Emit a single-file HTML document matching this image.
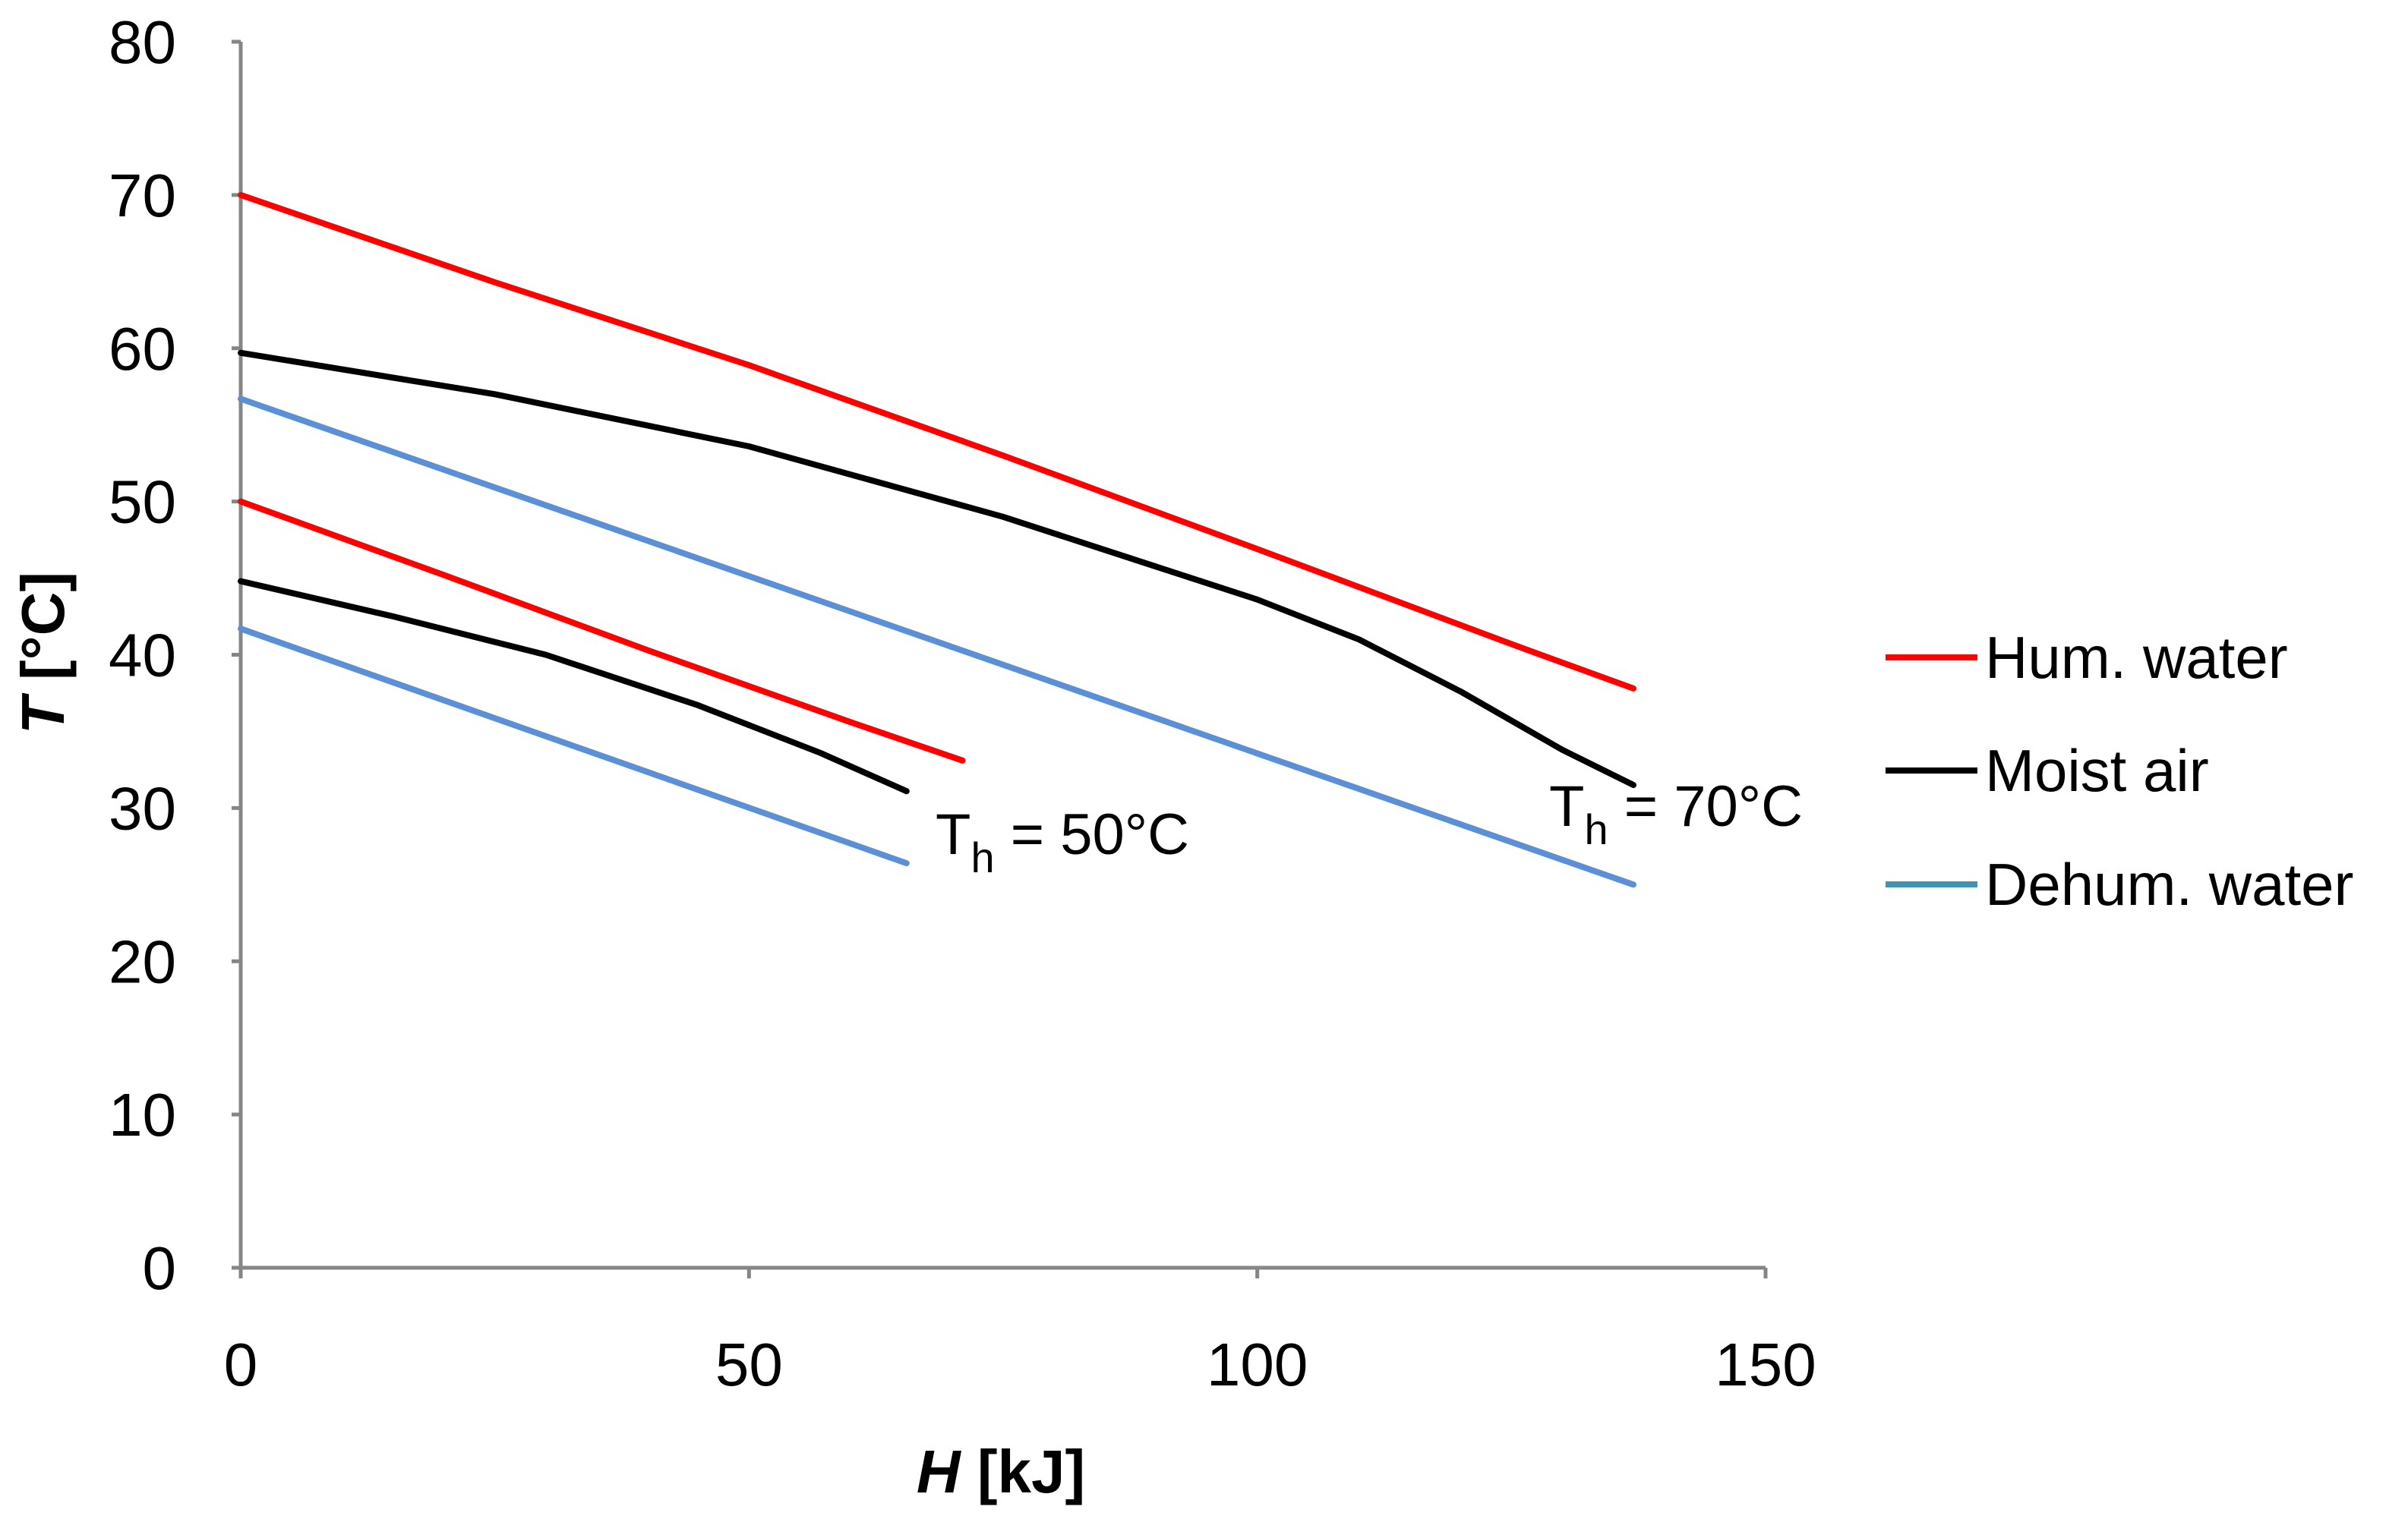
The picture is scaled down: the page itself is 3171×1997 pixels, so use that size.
<!DOCTYPE html>
<html><head><meta charset="utf-8"><style>
html,body{margin:0;padding:0;background:#fff;}
svg{display:block;font-family:"Liberation Sans",sans-serif;}
</style></head><body>
<svg id="chart" width="3171" height="1997" viewBox="0 0 3171 1997">
<g id="axes"></g>
<g id="series"></g>
<text x="1232" y="1125" font-size="76">T<tspan font-size="56" dy="24">h</tspan><tspan dy="-24"> = 50°C</tspan></text>
<text x="2040" y="1088" font-size="76">T<tspan font-size="56" dy="24">h</tspan><tspan dy="-24"> = 70°C</tspan></text>
<text transform="translate(84,860) rotate(-90)" text-anchor="middle" font-size="80" font-weight="bold"><tspan font-style="italic">T</tspan> [°C]</text>
<text x="1318" y="1966" text-anchor="middle" font-size="80" font-weight="bold"><tspan font-style="italic">H</tspan> [kJ]</text>
<g>
<line x1="2483" y1="866" x2="2604" y2="866" stroke="#ff0000" stroke-width="8"/>
<text x="2614" y="893" font-size="78">Hum. water</text>
<line x1="2483" y1="1015" x2="2604" y2="1015" stroke="#000" stroke-width="8"/>
<text x="2614" y="1042" font-size="78">Moist air</text>
<line x1="2483" y1="1165" x2="2604" y2="1165" stroke="#3e95ad" stroke-width="8"/>
<text x="2614" y="1192" font-size="78">Dehum. water</text>
</g>
</svg>
<script>
const xTicks = [0, 50, 100, 150];
const yTicks = [0, 10, 20, 30, 40, 50, 60, 70, 80];
const hum70X = [0, 25, 50, 75, 100, 125, 137];
const hum70Y = [70, 64.3, 58.9, 53, 46.9, 40.7, 37.8];
const air70X = [0, 25, 50, 75, 100, 110, 120, 130, 137];
const air70Y = [59.7, 57, 53.6, 49, 43.6, 41, 37.6, 33.8, 31.5];
const deh70X = [0, 137];
const deh70Y = [56.7, 25.0];
const hum50X = [0, 20, 40, 60, 71];
const hum50Y = [50, 45.2, 40.3, 35.6, 33.1];
const air50X = [0, 15, 30, 45, 57, 65.5];
const air50Y = [44.8, 42.5, 40, 36.7, 33.6, 31.1];
const deh50X = [0, 65.5];
const deh50Y = [41.7, 26.4];

const X0 = 317, X1 = 2325, Y0 = 1670, Y1 = 55;
function sx(v){ return X0 + (v / 150) * (X1 - X0); }
function sy(v){ return Y0 - (v / 80) * (Y0 - Y1); }
const NS = "http://www.w3.org/2000/svg";
const axes = document.getElementById('axes');
const series = document.getElementById('series');

function mk(tag, attrs, parent){
  const e = document.createElementNS(NS, tag);
  for (const k in attrs) e.setAttribute(k, attrs[k]);
  parent.appendChild(e);
  return e;
}

const yAxis = mk('line', {x1:X0, y1:Y1, x2:X0, y2:Y0, stroke:'#868686', 'stroke-width':5}, axes);


const xAxis = mk('line', {x1:X0, y1:Y0, x2:X1, y2:Y0, stroke:'#868686', 'stroke-width':5}, axes);



yTicks.forEach(v => {
  const t = mk('line', {x1:X0-12, y1:sy(v), x2:X0, y2:sy(v), stroke:'#868686', 'stroke-width':5}, axes);
  
  
  const l = mk('text', {x:232, y:sy(v)+28, 'text-anchor':'end', 'font-size':80}, axes);
  l.textContent = v;
  
  
});
xTicks.forEach(v => {
  const t = mk('line', {x1:sx(v), y1:Y0, x2:sx(v), y2:Y0+14, stroke:'#868686', 'stroke-width':5}, axes);
  
  
  const l = mk('text', {x:sx(v), y:1825, 'text-anchor':'middle', 'font-size':80}, axes);
  l.textContent = v;
  
  
});

function drawLine(xs, ys, color, name){
  const d = xs.map((x,i) => (i ? 'L' : 'M') + sx(x).toFixed(1) + ' ' + sy(ys[i]).toFixed(1)).join(' ');
  const p = mk('path', {d:d, fill:'none', stroke:color, 'stroke-width':8, 'stroke-linejoin':'round', 'stroke-linecap':'round'}, series);
  
  
}
drawLine(deh70X, deh70Y, '#5b8fd6', 'line-dehum-water-70');
drawLine(air70X, air70Y, '#000000', 'line-moist-air-70');
drawLine(hum70X, hum70Y, '#ff0000', 'line-hum-water-70');
drawLine(deh50X, deh50Y, '#5b8fd6', 'line-dehum-water-50');
drawLine(air50X, air50Y, '#000000', 'line-moist-air-50');
drawLine(hum50X, hum50Y, '#ff0000', 'line-hum-water-50');
</script>
</body></html>
